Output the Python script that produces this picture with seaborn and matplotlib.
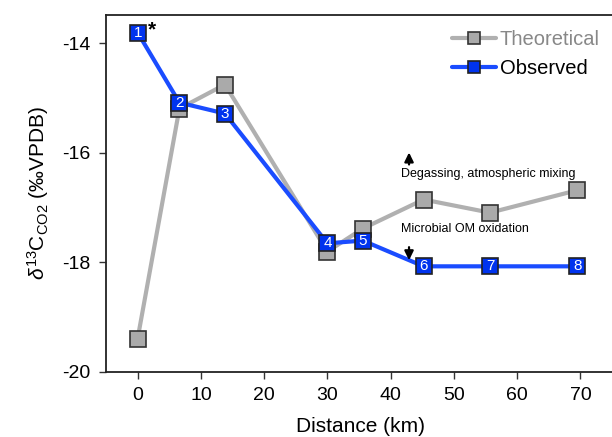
import matplotlib
matplotlib.use("Agg")
import matplotlib.pyplot as plt
import seaborn as sns
import pandas as pd

distance = [0, 6.6, 13.8, 30, 35.6, 45.2, 55.7, 69.5]
theoretical = [-19.39, -15.19, -14.75, -17.8, -17.38, -16.85, -17.09, -16.68]
observed = [-13.8, -15.08, -15.28, -17.65, -17.6, -18.07, -18.07, -18.07]
labels = ["1", "2", "3", "4", "5", "6", "7", "8"]
xticks = [0, 10, 20, 30, 40, 50, 60, 70]
yticks = [-14, -16, -18, -20]

sns.set_theme(style="ticks")
plt.rcParams['font.family'] = ['Liberation Sans', 'DejaVu Sans']
plt.rcParams['mathtext.fontset'] = 'custom'
plt.rcParams['mathtext.rm'] = 'Liberation Sans'
plt.rcParams['mathtext.it'] = 'Liberation Sans:italic'
for k in ['text.color', 'axes.labelcolor', 'xtick.labelcolor', 'ytick.labelcolor']:
    plt.rcParams[k] = 'black'

df = pd.DataFrame({"Distance": distance, "Theoretical": theoretical, "Observed": observed})

fig = plt.figure(figsize=(6.12, 4.37), dpi=100)
ax = fig.add_axes([106/612, 1-372/437, (614-106)/612, (372-15)/437])

gray = "#aaaaaa"
sns.lineplot(data=df, x="Distance", y="Theoretical", ax=ax, sort=False, color="#b0b0b0",
             lw=3, marker="s", markersize=11.5, markerfacecolor=gray,
             markeredgecolor="#333333", markeredgewidth=1.2, label="Theoretical", zorder=2)
sns.lineplot(data=df, x="Distance", y="Observed", ax=ax, sort=False, color="#1a4cff",
             lw=3, marker="s", markersize=11.5, markerfacecolor="#0033ee",
             markeredgecolor="#222222", markeredgewidth=1.2, label="Observed", zorder=3)

for xv, yv, t in zip(distance, observed, labels):
    ax.text(xv, yv, t, color="white", fontsize=11, ha="center", va="center", zorder=5)

ax.text(2.2, -13.845, "*", fontsize=15, fontweight="bold", ha="center", va="baseline", color="black")

arrow_kw = dict(arrowstyle="-|>,head_width=0.22,head_length=0.45", color="black", lw=1.6,
                shrinkA=0, shrinkB=0)
ax.annotate("", xy=(42.9, -15.99), xytext=(42.9, -16.21), arrowprops=arrow_kw)
ax.text(41.6, -16.38, "Degassing, atmospheric mixing", fontsize=9, ha="left", va="center")
ax.text(41.6, -17.38, "Microbial OM oxidation", fontsize=9, ha="left", va="center")
ax.annotate("", xy=(42.9, -17.96), xytext=(42.9, -17.72), arrowprops=arrow_kw)

ax.set_xlim(-5, 75.3)
ax.set_ylim(-20, -13.48)
ax.set_xticks(xticks)
ax.set_yticks(yticks)
ax.set_yticklabels([str(v) for v in yticks])
ax.tick_params(labelsize=14, length=5, width=1, color="#333333", pad=6)
for s in ax.spines.values():
    s.set_linewidth(1.3)
    s.set_color("#222222")

ax.set_xlabel("Distance (km)", fontsize=15, labelpad=9)
ax.set_ylabel(r"$\delta^{13}$C$_{\mathregular{CO2}}$ (‰VPDB)", fontsize=15, labelpad=8)

leg = ax.legend(loc="upper right", frameon=False, fontsize=14.5, handlelength=2.2,
                handletextpad=0.2, labelspacing=0.5, bbox_to_anchor=(1.008, 1.01))
for txt, c in zip(leg.get_texts(), ["#888888", "black"]):
    txt.set_color(c)
for h in leg.legend_handles:
    h.set_markersize(9)

fig.savefig("out.png", dpi=100)
